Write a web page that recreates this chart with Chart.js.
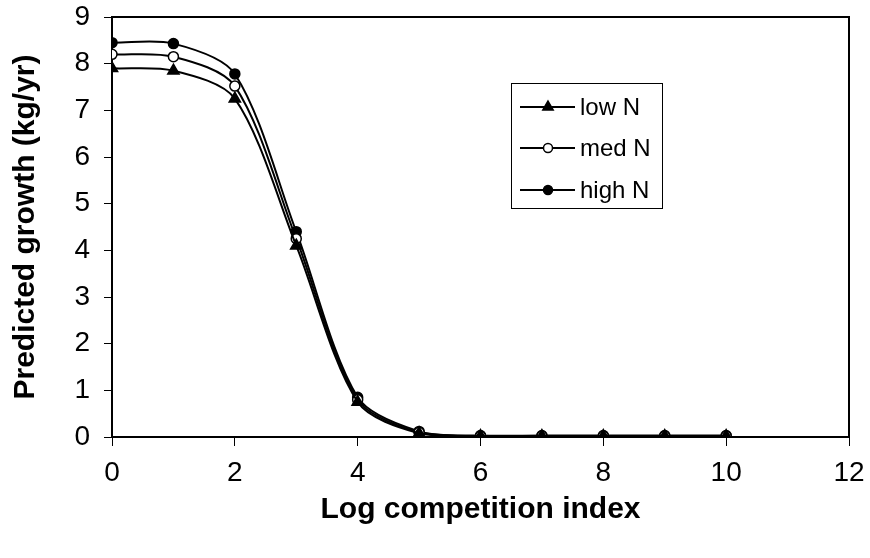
<!DOCTYPE html>
<html>
<head>
<meta charset="utf-8">
<script src="https://cdn.jsdelivr.net/npm/chart.js@4/dist/chart.umd.min.js"></script>
<style>
  html, body { margin: 0; padding: 0; background: #fff; }
  #wrap { width: 870px; height: 558px; }
</style>
</head>
<body>
<div id="wrap"><canvas id="c" width="870" height="558"></canvas></div>
<script>
// Log competition index (x positions of the model predictions)
const competitionIndex = [0, 1, 2, 3, 4, 5, 6, 7, 8, 9, 10];

// Predicted growth (kg/yr) for each nitrogen level
const lowN  = [7.90, 7.85, 7.25, 4.10, 0.75, 0.08, 0.02, 0.02, 0.02, 0.02, 0.02];
const medN  = [8.20, 8.15, 7.52, 4.25, 0.80, 0.10, 0.02, 0.02, 0.02, 0.02, 0.02];
const highN = [8.45, 8.43, 7.78, 4.40, 0.85, 0.12, 0.03, 0.03, 0.03, 0.03, 0.03];

const seriesNames = ['low N', 'med N', 'high N'];
const xTicks = [0, 2, 4, 6, 8, 10, 12];
const yTicks = [0, 1, 2, 3, 4, 5, 6, 7, 8, 9];

const FONT = 'Arial, "Liberation Sans", sans-serif';

function pts(values) {
  return competitionIndex.map((x, i) => ({ x: x, y: values[i] }));
}

const common = {
  borderColor: '#000',
  borderWidth: 2,
  tension: 0.3,
  pointBorderColor: '#000',
  pointBorderWidth: 1.5,
  fill: false
};

// Frame around the plot area and the boxed legend
const framePlugin = {
  id: 'frame',
  afterDatasetsDraw(chart) {
    const { ctx, chartArea: a } = chart;
    ctx.save();
    ctx.strokeStyle = '#000';
    ctx.lineWidth = 2;
    ctx.beginPath();
    ctx.moveTo(a.left, a.top);
    ctx.lineTo(a.right, a.top);
    ctx.lineTo(a.right, a.bottom);
    ctx.stroke();

    // legend
    const box = { x: 511, y: 83, w: 151, h: 125 };
    ctx.lineWidth = 1;
    ctx.fillStyle = '#fff';
    ctx.fillRect(box.x, box.y, box.w, box.h);
    ctx.strokeRect(box.x + 0.5, box.y + 0.5, box.w, box.h);
    const rows = [107, 148, 190];
    chart.data.datasets.forEach((ds, i) => {
      const y = rows[i];
      ctx.strokeStyle = '#000';
      ctx.lineWidth = 1.8;
      ctx.beginPath();
      ctx.moveTo(520, y);
      ctx.lineTo(575, y);
      ctx.stroke();
      ctx.fillStyle = ds.pointBackgroundColor;
      ctx.strokeStyle = '#000';
      ctx.lineWidth = 1.5;
      Chart.helpers.drawPoint(ctx, {
        pointStyle: ds.pointStyle,
        radius: ds.pointRadius - 0.5,
        borderWidth: 1.5
      }, 548, y);
      ctx.fillStyle = '#000';
      ctx.font = '24px ' + FONT;
      ctx.textBaseline = 'middle';
      ctx.textAlign = 'left';
      ctx.fillText(ds.label, 580, y + 1);
    });
    ctx.restore();
  }
};

new Chart(document.getElementById('c'), {
  type: 'line',
  data: {
    datasets: [
      Object.assign({}, common, {
        label: seriesNames[0], data: pts(lowN),
        pointStyle: 'triangle', pointRadius: 6.5, pointBackgroundColor: '#000'
      }),
      Object.assign({}, common, {
        label: seriesNames[1], data: pts(medN),
        pointStyle: 'circle', pointRadius: 5, pointBackgroundColor: '#fff'
      }),
      Object.assign({}, common, {
        label: seriesNames[2], data: pts(highN),
        pointStyle: 'circle', pointRadius: 5, pointBackgroundColor: '#000'
      })
    ]
  },
  options: {
    responsive: false,
    animation: false,
    devicePixelRatio: 1,
    layout: { padding: { top: 17, right: 21, left: 0, bottom: 0 } },
    plugins: { legend: { display: false }, tooltip: { enabled: false } },
    scales: {
      x: {
        type: 'linear',
        min: 0, max: 12,
        afterFit(s) { s.height = 121; s.paddingLeft = 0; s.paddingRight = 0; },
        afterBuildTicks(s) { s.ticks = xTicks.map(v => ({ value: v })); },
        ticks: { font: { size: 28, family: FONT }, color: '#000', padding: 10, maxRotation: 0 },
        grid: { drawOnChartArea: false, tickLength: 9, color: '#000', tickWidth: 1 },
        border: { color: '#000', width: 2 },
        title: {
          display: true, text: 'Log competition index', color: '#000',
          font: { size: 30, weight: 'bold', family: FONT }, padding: { top: 0, bottom: 30 }
        }
      },
      y: {
        min: 0, max: 9,
        afterFit(s) { s.width = 112; s.paddingTop = 0; s.paddingBottom = 0; },
        afterBuildTicks(s) { s.ticks = yTicks.map(v => ({ value: v })); },
        ticks: { font: { size: 28, family: FONT }, color: '#000', padding: 14 },
        grid: { drawOnChartArea: false, tickLength: 8, color: '#000', tickWidth: 1 },
        border: { color: '#000', width: 2 },
        title: {
          display: true, text: 'Predicted growth (kg/yr)', color: '#000',
          font: { size: 30, weight: 'bold', family: FONT }, padding: { top: 8, bottom: 0 }
        }
      }
    }
  },
  plugins: [framePlugin]
});
</script>
</body>
</html>
